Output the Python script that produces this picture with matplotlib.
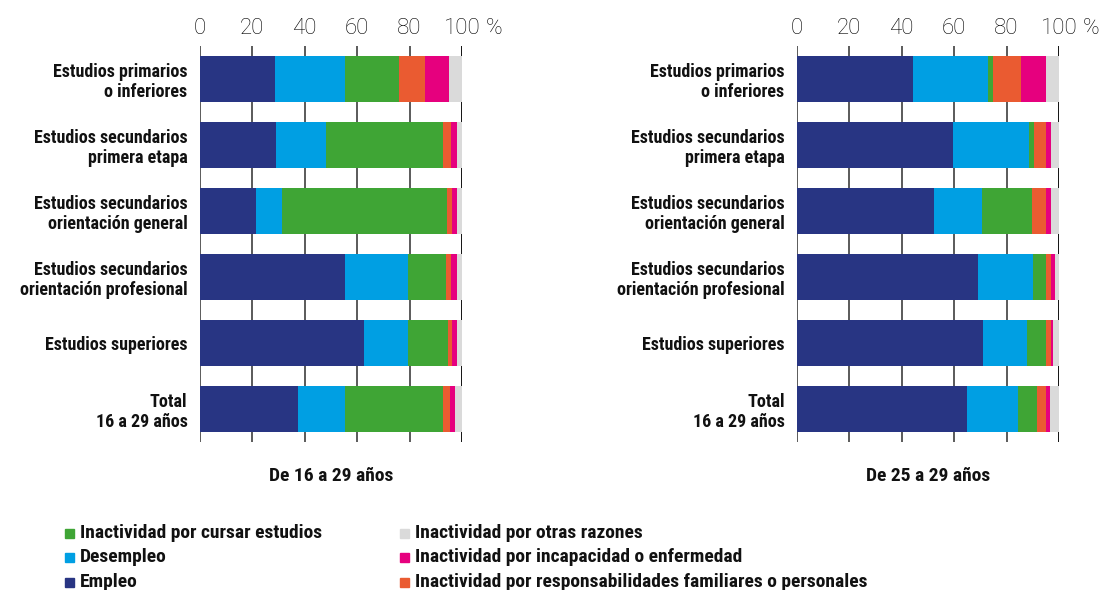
import matplotlib
matplotlib.use('Agg')
import matplotlib.pyplot as plt
from matplotlib.patches import Rectangle
from matplotlib import font_manager

names = {f.name for f in font_manager.fontManager.ttflist}
cond = next((n for n in ['Roboto Condensed', 'Archivo Narrow', 'PT Sans Narrow', 'Fira Sans Condensed',
                         'IBM Plex Sans Condensed', 'Liberation Sans Narrow'] if n in names), 'DejaVu Sans')
light = 'Roboto' if 'Roboto' in names else 'DejaVu Sans'

categories = ["Estudios primarios\no inferiores", "Estudios secundarios\nprimera etapa",
              "Estudios secundarios\norientación general", "Estudios secundarios\norientación profesional",
              "Estudios superiores", "Total\n16 a 29 años"]
series = ["Empleo", "Desempleo", "Inactividad por cursar estudios",
          "Inactividad por responsabilidades familiares o personales",
          "Inactividad por incapacidad o enfermedad", "Inactividad por otras razones"]
colors = ["#283583", "#009FE3", "#3FA535", "#EA5B31", "#E6007E", "#DADADA"]

# De 16 a 29 años (%), one list per series, rows in category order
left_empleo = [28.7, 29.0, 21.3, 55.4, 62.7, 37.5]
left_desempleo = [26.7, 19.0, 9.9, 24.0, 16.7, 17.9]
left_estudios = [20.7, 44.9, 63.2, 14.5, 15.4, 37.5]
left_familia = [9.9, 3.0, 1.9, 1.8, 1.5, 2.6]
left_incap = [9.2, 2.3, 1.9, 2.5, 1.9, 2.0]
left_otras = [4.8, 1.8, 1.8, 1.8, 1.8, 2.5]

# De 25 a 29 años (%)
right_empleo = [44.4, 59.6, 52.4, 69.2, 71.1, 65.0]
right_desempleo = [28.6, 29.0, 18.3, 20.9, 16.6, 19.4]
right_estudios = [1.7, 1.9, 19.0, 5.0, 7.4, 7.2]
right_familia = [10.8, 4.6, 5.4, 1.9, 1.9, 3.5]
right_incap = [9.6, 1.9, 1.9, 1.5, 0.7, 1.5]
right_otras = [4.9, 3.0, 3.0, 1.5, 2.3, 3.4]

panels = [("De 16 a 29 años", [left_empleo, left_desempleo, left_estudios, left_familia, left_incap, left_otras]),
          ("De 25 a 29 años", [right_empleo, right_desempleo, right_estudios, right_familia, right_incap, right_otras])]

fig = plt.figure(figsize=(11.07, 5.9), dpi=100)
W, H = 1107, 590
lefts = [200 / W, 797 / W]
for (title, data), lx in zip(panels, lefts):
    ax = fig.add_axes([lx, 1 - 442 / H, 262 / W, 396 / H])
    y = list(range(len(categories)))
    base = [0] * len(categories)
    for vals, c in zip(data, colors):
        ax.barh(y, vals, left=base, height=0.71, color=c, zorder=2)
        base = [b + v for b, v in zip(base, vals)]
    ax.set_xlim(0, 100)
    ax.set_ylim(5.5, -0.5)
    for s in ax.spines.values():
        s.set_visible(False)
    ax.xaxis.tick_top()
    ax.set_xticks([0, 20, 40, 60, 80, 100])
    ax.set_xticklabels(['0', '20', '40', '60', '80', '100'], fontfamily=light,
                       fontweight='light', fontsize=16, color='#000000')
    ax.tick_params(axis='x', length=0, pad=5)
    ax.grid(axis='x', color='#4d4d4d', lw=1.3, zorder=0)
    ax.get_xgridlines()[-1].set_color('#000000')
    ax.set_axisbelow(True)
    ax.annotate('%', xy=(100, 1), xycoords=('data', 'axes fraction'), xytext=(17, 5),
                textcoords='offset points', ha='left', va='bottom', fontfamily=light,
                fontweight='light', fontsize=16, color='#000000')
    ax.set_yticks(y)
    ax.set_yticklabels(categories, fontfamily=cond, fontweight='bold', fontsize=13, color='#111111')
    for t in ax.get_yticklabels():
        t.set_linespacing(1.15)
    ax.tick_params(axis='y', length=0, pad=9)
    ax.text(0.5, -0.085, title, transform=ax.transAxes, ha='center', va='center',
            fontfamily=cond, fontweight='bold', fontsize=14, color='#111111')

legend_cols = [[2, 1, 0], [5, 4, 3]]
for colx, idxs in zip([65, 400], legend_cols):
    for row, i in enumerate(idxs):
        yc = 533 + row * 24.5
        fig.patches.append(Rectangle((colx / W, 1 - (yc + 4.5) / H), 8.5 / W, 9 / H,
                                     transform=fig.transFigure, color=colors[i]))
        fig.text((colx + 15) / W, 1 - yc / H, series[i], ha='left', va='center',
                 fontfamily=cond, fontweight='bold', fontsize=14, color='#111111')

fig.savefig('out.png', dpi=100)
